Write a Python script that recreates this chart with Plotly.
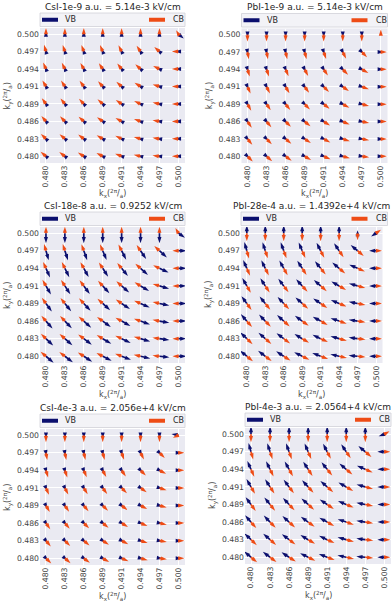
import math
import plotly.graph_objects as go

W, H = 392, 601

KX = [0.480, 0.482857, 0.485714, 0.488571, 0.491429, 0.494286, 0.497143, 0.500]
KY = [0.500, 0.497143, 0.494286, 0.491429, 0.488571, 0.485714, 0.482857, 0.480]  # rows, top to bottom
TICK_TEXT = ["0.480", "0.483", "0.486", "0.489", "0.491", "0.494", "0.497", "0.500"]

TITLES = [
    "CsI-1e-9 a.u. = 5.14e-3 kV/cm",
    "PbI-1e-9 a.u. = 5.14e-3 kV/cm",
    "CsI-18e-8 a.u. = 0.9252 kV/cm",
    "PbI-28e-4 a.u. = 1.4392e+4 kV/cm",
    "CsI-4e-3 a.u. = 2.056e+4 kV/cm",
    "PbI-4e-3 a.u. = 2.0564+4 kV/cm",
]

# arrow directions in degrees (counter-clockwise from +kx), rows follow KY
CSI_1E9_VB_ANG = [
    [90, 90, 90, 90, 90, 90, 90, -40],
    [106, 108, 110, 113, 117, 124, 138, 180],
    [114, 116, 119, 123, 129, 138, 155, 180],
    [120, 123, 127, 132, 139, 149, 164, 180],
    [126, 129, 133, 138, 146, 156, 168, 180],
    [131, 134, 138, 144, 151, 160, 170, 180],
    [136, 139, 143, 149, 155, 164, 172, 180],
    [140, 143, 147, 153, 159, 167, 174, 180],
]
CSI_1E9_CB_ANG = [
    [90, 90, 90, 90, 90, 90, 90, 120],
    [106, 108, 110, 113, 117, 124, 138, 180],
    [114, 116, 119, 123, 129, 138, 155, 180],
    [120, 123, 127, 132, 139, 149, 164, 180],
    [126, 129, 133, 138, 146, 156, 168, 180],
    [131, 134, 138, 144, 151, 160, 170, 180],
    [136, 139, 143, 149, 155, 164, 172, 180],
    [140, 143, 147, 153, 159, 167, 174, 180],
]
PBI_1E9_VB_ANG = [
    [-90, -90, -90, -90, -90, -90, -90, 90],
    [-80, -79, -77, -75, -71, -63, -45, 0],
    [-73, -71, -67, -62, -56, -45, -28, 0],
    [-66, -63, -59, -53, -45, -35, -19, 0],
    [-60, -56, -51, -45, -38, -28, -15, 0],
    [-55, -50, -45, -39, -32, -23, -12, 0],
    [-50, -45, -40, -34, -28, -19, -10, 0],
    [-45, -41, -36, -30, -24, -16, -8, 0],
]
PBI_1E9_CB_ANG = [
    [-90, -90, -90, -90, -90, -90, -90, 90],
    [-80, -79, -77, -75, -71, -63, -45, 0],
    [-73, -71, -67, -62, -56, -45, -28, 0],
    [-66, -63, -59, -53, -45, -35, -19, 0],
    [-60, -56, -51, -45, -38, -28, -15, 0],
    [-55, -50, -45, -39, -32, -23, -12, 0],
    [-50, -45, -40, -34, -28, -19, -10, 0],
    [-45, -41, -36, -30, -24, -16, -8, 0],
]
CSI_18E8_VB_ANG = [
    [-90, -90, -90, -90, -90, -90, -90, -35],
    [-74, -72, -70, -67, -63, -56, -42, 0],
    [-66, -64, -61, -57, -51, -42, -25, 0],
    [-60, -57, -53, -48, -41, -31, -16, 0],
    [-54, -51, -47, -42, -34, -24, -12, 0],
    [-49, -46, -42, -36, -29, -20, -10, 0],
    [-44, -41, -37, -31, -25, -16, -8, 0],
    [-40, -37, -33, -27, -21, -13, -6, 0],
]
CSI_18E8_CB_ANG = [
    [90, 90, 90, 90, 90, 90, 90, 120],
    [106, 108, 110, 113, 117, 124, 138, 180],
    [114, 116, 119, 123, 129, 138, 155, 180],
    [120, 123, 127, 132, 139, 149, 164, 180],
    [126, 129, 133, 138, 146, 156, 168, 180],
    [131, 134, 138, 144, 151, 160, 170, 180],
    [136, 139, 143, 149, 155, 164, 172, 180],
    [140, 143, 147, 153, 159, 167, 174, 180],
]
PBI_28E4_VB_ANG = [
    [90, 90, 90, 90, 90, 90, 90, 215],
    [106, 108, 110, 113, 117, 124, 140, 180],
    [114, 116, 119, 123, 129, 140, 157, 180],
    [120, 123, 127, 132, 139, 150, 165, 180],
    [126, 129, 133, 138, 146, 157, 169, 180],
    [131, 134, 138, 144, 151, 161, 171, 180],
    [136, 139, 143, 149, 155, 165, 173, 180],
    [140, 143, 147, 153, 159, 168, 175, 180],
]
PBI_28E4_CB_ANG = [
    [-90, -90, -90, -90, -90, -90, -90, 35],
    [-74, -72, -70, -67, -63, -56, -40, 0],
    [-66, -64, -61, -57, -51, -40, -23, 0],
    [-60, -57, -53, -48, -41, -30, -15, 0],
    [-54, -51, -47, -42, -34, -23, -11, 0],
    [-49, -46, -42, -36, -29, -19, -9, 0],
    [-44, -41, -37, -31, -25, -15, -7, 0],
    [-40, -37, -33, -27, -21, -12, -5, 0],
]
CSI_4E3_VB_ANG = [
    [-90, -90, -90, -90, -90, -90, -90, 170],
    [-80, -79, -77, -75, -71, -63, -45, 0],
    [-73, -71, -67, -62, -56, -45, -28, 0],
    [-66, -63, -59, -53, -45, -35, -19, 0],
    [-60, -56, -51, -45, -38, -28, -15, 0],
    [-55, -50, -45, -39, -32, -23, -12, 0],
    [-50, -45, -40, -34, -28, -19, -10, 0],
    [-45, -41, -36, -30, -24, -16, -8, 0],
]
CSI_4E3_CB_ANG = [
    [-90, -90, -90, -90, -90, -90, -90, 205],
    [-80, -79, -77, -75, -71, -63, -45, 0],
    [-73, -71, -67, -62, -56, -45, -28, 0],
    [-66, -63, -59, -53, -45, -35, -19, 0],
    [-60, -56, -51, -45, -38, -28, -15, 0],
    [-55, -50, -45, -39, -32, -23, -12, 0],
    [-50, -45, -40, -34, -28, -19, -10, 0],
    [-45, -41, -36, -30, -24, -16, -8, 0],
]
PBI_4E3_VB_ANG = [
    [90, 90, 90, 90, 90, 90, 90, 200],
    [106, 108, 110, 113, 117, 124, 140, 180],
    [114, 116, 119, 123, 129, 140, 157, 180],
    [120, 123, 127, 132, 139, 150, 165, 180],
    [126, 129, 133, 138, 146, 157, 169, 180],
    [131, 134, 138, 144, 151, 161, 171, 180],
    [136, 139, 143, 149, 155, 165, 173, 180],
    [140, 143, 147, 153, 159, 168, 175, 180],
]
PBI_4E3_CB_ANG = [
    [-90, -90, -90, -90, -90, -90, -90, 30],
    [-74, -72, -70, -67, -63, -56, -40, 0],
    [-66, -64, -61, -57, -51, -40, -23, 0],
    [-60, -57, -53, -48, -41, -30, -15, 0],
    [-54, -51, -47, -42, -34, -23, -11, 0],
    [-49, -46, -42, -36, -29, -19, -9, 0],
    [-44, -41, -37, -31, -25, -15, -7, 0],
    [-40, -37, -33, -27, -21, -12, -5, 0],
]

# arrow lengths as drawn (px), rows follow KY
CSI_1E9_VB_LEN = [
    [3.5, 3.5, 3.5, 3.5, 3.5, 3.5, 3.5, 7],
    [3.5, 3.5, 3.5, 3.5, 3.5, 3.5, 3.5, 3.5],
    [3.5, 3.5, 3.5, 3.5, 3.5, 3.5, 3.5, 3.5],
    [3.5, 3.5, 3.5, 3.5, 3.5, 3.5, 3.5, 3.5],
    [3.5, 3.5, 3.5, 3.5, 3.5, 3.5, 3.5, 3.5],
    [3.5, 3.5, 3.5, 3.5, 3.5, 3.5, 3.5, 3.5],
    [3.5, 3.5, 3.5, 3.5, 3.5, 3.5, 3.5, 3.5],
    [3.5, 3.5, 3.5, 3.5, 3.5, 3.5, 3.5, 3.5],
]
CSI_1E9_CB_LEN = [
    [6, 6, 6, 6, 6, 6, 6, 4.5],
    [7, 7, 7, 7, 7, 7, 7, 6.5],
    [7, 7, 7, 7, 7, 7, 7, 6.5],
    [7, 7, 7, 7, 7, 7, 7, 6.5],
    [7, 7, 7, 7, 7, 7, 7, 6.5],
    [7, 7, 7, 7, 7, 7, 7, 6.5],
    [7, 7, 7, 7, 7, 7, 7, 6.5],
    [7, 7, 7, 7, 7, 7, 7, 6.5],
]
PBI_1E9_VB_LEN = [
    [3, 3, 3, 3, 3, 3, 3, 0],
    [3, 3, 3, 3, 3, 3, 3, 3],
    [3, 3, 3, 3, 3, 3, 3, 3],
    [3, 3, 3, 3, 3, 3, 3, 3],
    [3, 3, 3, 3, 3, 3, 3, 3],
    [3, 3, 3, 3, 3, 3, 3, 3],
    [3, 3, 3, 3, 3, 3, 3, 3],
    [3, 3, 3, 3, 3, 3, 3, 3],
]
PBI_1E9_CB_LEN = [
    [7, 7, 7, 7, 7, 7, 7, 5],
    [7.5, 7.5, 7.5, 7.5, 7.5, 7.5, 7.5, 6],
    [7.5, 7.5, 7.5, 7.5, 7.5, 7.5, 7.5, 6],
    [7.5, 7.5, 7.5, 7.5, 7.5, 7.5, 7.5, 6],
    [7.5, 7.5, 7.5, 7.5, 7.5, 7.5, 7.5, 6],
    [7.5, 7.5, 7.5, 7.5, 7.5, 7.5, 7.5, 6],
    [7.5, 7.5, 7.5, 7.5, 7.5, 7.5, 7.5, 6],
    [7.5, 7.5, 7.5, 7.5, 7.5, 7.5, 7.5, 6],
]
CSI_18E8_VB_LEN = [
    [10, 10, 10, 10, 10, 10, 10, 8],
    [10, 10, 10, 10, 10, 10, 10, 8],
    [10, 10, 10, 10, 10, 10, 10, 8],
    [10, 10, 10, 10, 10, 10, 10, 8],
    [10, 10, 10, 10, 10, 10, 10, 8],
    [10, 10, 10, 10, 10, 10, 10, 8],
    [10, 10, 10, 10, 10, 10, 10, 8],
    [10, 10, 10, 10, 10, 10, 10, 8],
]
CSI_18E8_CB_LEN = [
    [6.5, 6.5, 6.5, 6.5, 6.5, 6.5, 6.5, 6],
    [7, 7, 7, 7, 7, 7, 7, 6],
    [7, 7, 7, 7, 7, 7, 7, 6],
    [7, 7, 7, 7, 7, 7, 7, 6],
    [7, 7, 7, 7, 7, 7, 7, 6],
    [7, 7, 7, 7, 7, 7, 7, 6],
    [7, 7, 7, 7, 7, 7, 7, 6],
    [7, 7, 7, 7, 7, 7, 7, 6],
]
PBI_28E4_VB_LEN = [
    [8, 8, 8, 8, 8, 8, 3, 6],
    [9, 9, 9, 9, 9, 9, 9, 7],
    [9, 9, 9, 9, 9, 9, 9, 7],
    [9, 9, 9, 9, 9, 9, 9, 7],
    [9, 9, 9, 9, 9, 9, 9, 7],
    [9, 9, 9, 9, 9, 9, 9, 7],
    [9, 9, 9, 9, 9, 9, 9, 7],
    [9, 9, 9, 9, 9, 9, 9, 7],
]
PBI_28E4_CB_LEN = [
    [8, 8, 8, 8, 8, 8, 7, 6],
    [8, 8, 8, 8, 8, 8, 8, 6],
    [8, 8, 8, 8, 8, 8, 8, 6],
    [8, 8, 8, 8, 8, 8, 8, 6],
    [8, 8, 8, 8, 8, 8, 8, 6],
    [8, 8, 8, 8, 8, 8, 8, 6],
    [8, 8, 8, 8, 8, 8, 8, 6],
    [8, 8, 8, 8, 8, 8, 8, 6],
]
CSI_4E3_VB_LEN = [
    [3.5, 3.5, 3.5, 3.5, 3.5, 3.5, 3.5, 7],
    [3.5, 3.5, 3.5, 3.5, 3.5, 3.5, 3.5, 3.5],
    [3.5, 3.5, 3.5, 3.5, 3.5, 3.5, 3.5, 3.5],
    [3.5, 3.5, 3.5, 3.5, 3.5, 3.5, 3.5, 3.5],
    [3.5, 3.5, 3.5, 3.5, 3.5, 3.5, 3.5, 3.5],
    [3.5, 3.5, 3.5, 3.5, 3.5, 3.5, 3.5, 3.5],
    [3.5, 3.5, 3.5, 3.5, 3.5, 3.5, 3.5, 3.5],
    [3.5, 3.5, 3.5, 3.5, 3.5, 3.5, 3.5, 3.5],
]
CSI_4E3_CB_LEN = [
    [7, 7, 7, 7, 7, 7, 7, 6],
    [7.5, 7.5, 7.5, 7.5, 7.5, 7.5, 7.5, 6],
    [7.5, 7.5, 7.5, 7.5, 7.5, 7.5, 7.5, 6],
    [7.5, 7.5, 7.5, 7.5, 7.5, 7.5, 7.5, 6],
    [7.5, 7.5, 7.5, 7.5, 7.5, 7.5, 7.5, 6],
    [7.5, 7.5, 7.5, 7.5, 7.5, 7.5, 7.5, 6],
    [7.5, 7.5, 7.5, 7.5, 7.5, 7.5, 7.5, 6],
    [7.5, 7.5, 7.5, 7.5, 7.5, 7.5, 7.5, 6],
]
PBI_4E3_VB_LEN = [
    [8, 8, 8, 8, 8, 8, 8, 6],
    [9, 9, 9, 9, 9, 9, 9, 7],
    [9, 9, 9, 9, 9, 9, 9, 7],
    [9, 9, 9, 9, 9, 9, 9, 7],
    [9, 9, 9, 9, 9, 9, 9, 7],
    [9, 9, 9, 9, 9, 9, 9, 7],
    [9, 9, 9, 9, 9, 9, 9, 7],
    [9, 9, 9, 9, 9, 9, 9, 7],
]
PBI_4E3_CB_LEN = [
    [8, 8, 8, 8, 8, 8, 8, 6],
    [8, 8, 8, 8, 8, 8, 8, 6],
    [8, 8, 8, 8, 8, 8, 8, 6],
    [8, 8, 8, 8, 8, 8, 8, 6],
    [8, 8, 8, 8, 8, 8, 8, 6],
    [8, 8, 8, 8, 8, 8, 8, 6],
    [8, 8, 8, 8, 8, 8, 8, 6],
    [8, 8, 8, 8, 8, 8, 8, 6],
]

VB_COLOR = "#0b0f6e"
CB_COLOR = "#ee4c16"
BG = "#eaeaf2"
FONT = "DejaVu Sans"
XR = [0.4791, 0.5010]
YR = [0.4789, 0.5010]
HEAD = 6.5  # arrow marker size

# plot boxes in px: left, right, top, bottom
BOXES = [
    (40, 185, 28, 163),
    (241.5, 387.5, 28.5, 163),
    (40, 185, 227, 363),
    (241, 382.5, 227, 363),
    (40, 185, 429, 565),
    (245, 391, 428, 564),
]
LEGEND_RIGHT = [185, 387.5, 185, 387.5, 185, 391]

PANELS = [
    (CSI_1E9_VB_ANG, CSI_1E9_VB_LEN, CSI_1E9_CB_ANG, CSI_1E9_CB_LEN),
    (PBI_1E9_VB_ANG, PBI_1E9_VB_LEN, PBI_1E9_CB_ANG, PBI_1E9_CB_LEN),
    (CSI_18E8_VB_ANG, CSI_18E8_VB_LEN, CSI_18E8_CB_ANG, CSI_18E8_CB_LEN),
    (PBI_28E4_VB_ANG, PBI_28E4_VB_LEN, PBI_28E4_CB_ANG, PBI_28E4_CB_LEN),
    (CSI_4E3_VB_ANG, CSI_4E3_VB_LEN, CSI_4E3_CB_ANG, CSI_4E3_CB_LEN),
    (PBI_4E3_VB_ANG, PBI_4E3_VB_LEN, PBI_4E3_CB_ANG, PBI_4E3_CB_LEN),
]


def px(x):
    return x / W


def py(y):
    return 1 - y / H


def add_quiver(fig, n, ang, ln, color, box):
    left, right, top, bottom = box
    ppx = (right - left) / (XR[1] - XR[0])
    ppy = (bottom - top) / (YR[1] - YR[0])
    head_len = 0.95 * HEAD
    sx, sy, hx, hy, hang = [], [], [], [], []
    for r, ky in enumerate(KY):
        for c, kx in enumerate(KX):
            L = ln[r][c]
            if L <= 0:
                continue
            a = math.radians(ang[r][c])
            ca, sa = math.cos(a), math.sin(a)
            shaft = max(L - 0.7 * head_len, 0)
            if shaft > 0:
                sx += [kx, kx + shaft * ca / ppx, None]
                sy += [ky, ky + shaft * sa / ppy, None]
            hx.append(kx + L * ca / ppx)
            hy.append(ky + L * sa / ppy)
            hang.append(90 - ang[r][c])
    ax = "x" if n == 1 else f"x{n}"
    ay = "y" if n == 1 else f"y{n}"
    fig.add_trace(go.Scatter(x=sx, y=sy, mode="lines", xaxis=ax, yaxis=ay,
                             line=dict(color=color, width=1.7), hoverinfo="skip"))
    fig.add_trace(go.Scatter(x=hx, y=hy, mode="markers", xaxis=ax, yaxis=ay,
                             marker=dict(symbol="arrow", size=HEAD, angle=hang,
                                         color=color, line=dict(width=0)),
                             hoverinfo="skip"))


fig = go.Figure()
shapes, annotations = [], []
axis_font = dict(family=FONT, size=7.7, color="#444444")
label_font = dict(family=FONT, size=8, color="#444444")

for i, (title, panel, box) in enumerate(zip(TITLES, PANELS, BOXES)):
    n = i + 1
    vb_ang, vb_len, cb_ang, cb_len = panel
    add_quiver(fig, n, vb_ang, vb_len, VB_COLOR, box)
    add_quiver(fig, n, cb_ang, cb_len, CB_COLOR, box)

    left, right, top, bottom = box
    xname = "xaxis" if n == 1 else f"xaxis{n}"
    yname = "yaxis" if n == 1 else f"yaxis{n}"
    fig.update_layout(**{
        xname: dict(domain=[px(left), px(right)], range=XR, anchor=f"y{n}" if n > 1 else "y",
                    tickvals=KX, ticktext=TICK_TEXT, tickangle=-90, tickfont=axis_font,
                    showgrid=True, gridcolor="white", gridwidth=1, zeroline=False,
                    showline=False, ticks="", fixedrange=True, automargin=False),
        yname: dict(domain=[py(bottom), py(top)], range=YR, anchor=f"x{n}" if n > 1 else "x",
                    tickvals=KX, ticktext=TICK_TEXT, tickfont=axis_font,
                    showgrid=True, gridcolor="white", gridwidth=1, zeroline=False,
                    showline=False, ticks="", fixedrange=True, automargin=False),
    })

    # axis titles
    annotations.append(dict(text="k<sub>x</sub>(<sup>2π</sup>/<sub>a</sub>)",
                            x=px((left + right) / 2), y=py(bottom + 31),
                            xref="paper", yref="paper", showarrow=False,
                            xanchor="center", yanchor="middle", font=label_font))
    annotations.append(dict(text="k<sub>y</sub>(<sup>2π</sup>/<sub>a</sub>)",
                            x=px(left - 32), y=py((top + bottom) / 2), textangle=-90,
                            xref="paper", yref="paper", showarrow=False,
                            xanchor="center", yanchor="middle", font=label_font))

    # title
    annotations.append(dict(text=title, x=px((left + right) / 2), y=py(top - 21),
                            xref="paper", yref="paper", showarrow=False,
                            xanchor="center", yanchor="middle",
                            font=dict(family=FONT, size=9, color="#262626")))

    # legend box with VB on the left, CB on the right
    lr = LEGEND_RIGHT[i]
    ltop, lbot = top - 15, top - 1.5
    lmid = (ltop + lbot) / 2
    shapes.append(dict(type="rect", xref="paper", yref="paper",
                       x0=px(left), x1=px(lr), y0=py(lbot), y1=py(ltop),
                       fillcolor="#f3f3f7", line=dict(color="#d0d0d8", width=0.8)))
    shapes.append(dict(type="rect", xref="paper", yref="paper",
                       x0=px(left + 2), x1=px(left + 18), y0=py(lmid + 2), y1=py(lmid - 2),
                       fillcolor=VB_COLOR, line=dict(width=0)))
    shapes.append(dict(type="rect", xref="paper", yref="paper",
                       x0=px(lr - 36), x1=px(lr - 20), y0=py(lmid + 2), y1=py(lmid - 2),
                       fillcolor=CB_COLOR, line=dict(width=0)))
    annotations.append(dict(text="VB", x=px(left + 23), y=py(lmid), xref="paper", yref="paper",
                            showarrow=False, xanchor="left", yanchor="middle",
                            font=dict(family=FONT, size=8, color="#262626")))
    annotations.append(dict(text="CB", x=px(lr - 14), y=py(lmid), xref="paper", yref="paper",
                            showarrow=False, xanchor="left", yanchor="middle",
                            font=dict(family=FONT, size=8, color="#262626")))

fig.update_layout(
    width=W, height=H,
    margin=dict(l=0, r=0, t=0, b=0),
    paper_bgcolor="white", plot_bgcolor=BG,
    showlegend=False,
    shapes=shapes, annotations=annotations,
    font=dict(family=FONT),
)

# the page body has a default 8px margin; drop it so the figure fills the window
fig.write_html("out.html", config={"displayModeBar": False},
               post_script="document.body.style.margin = '0';")
